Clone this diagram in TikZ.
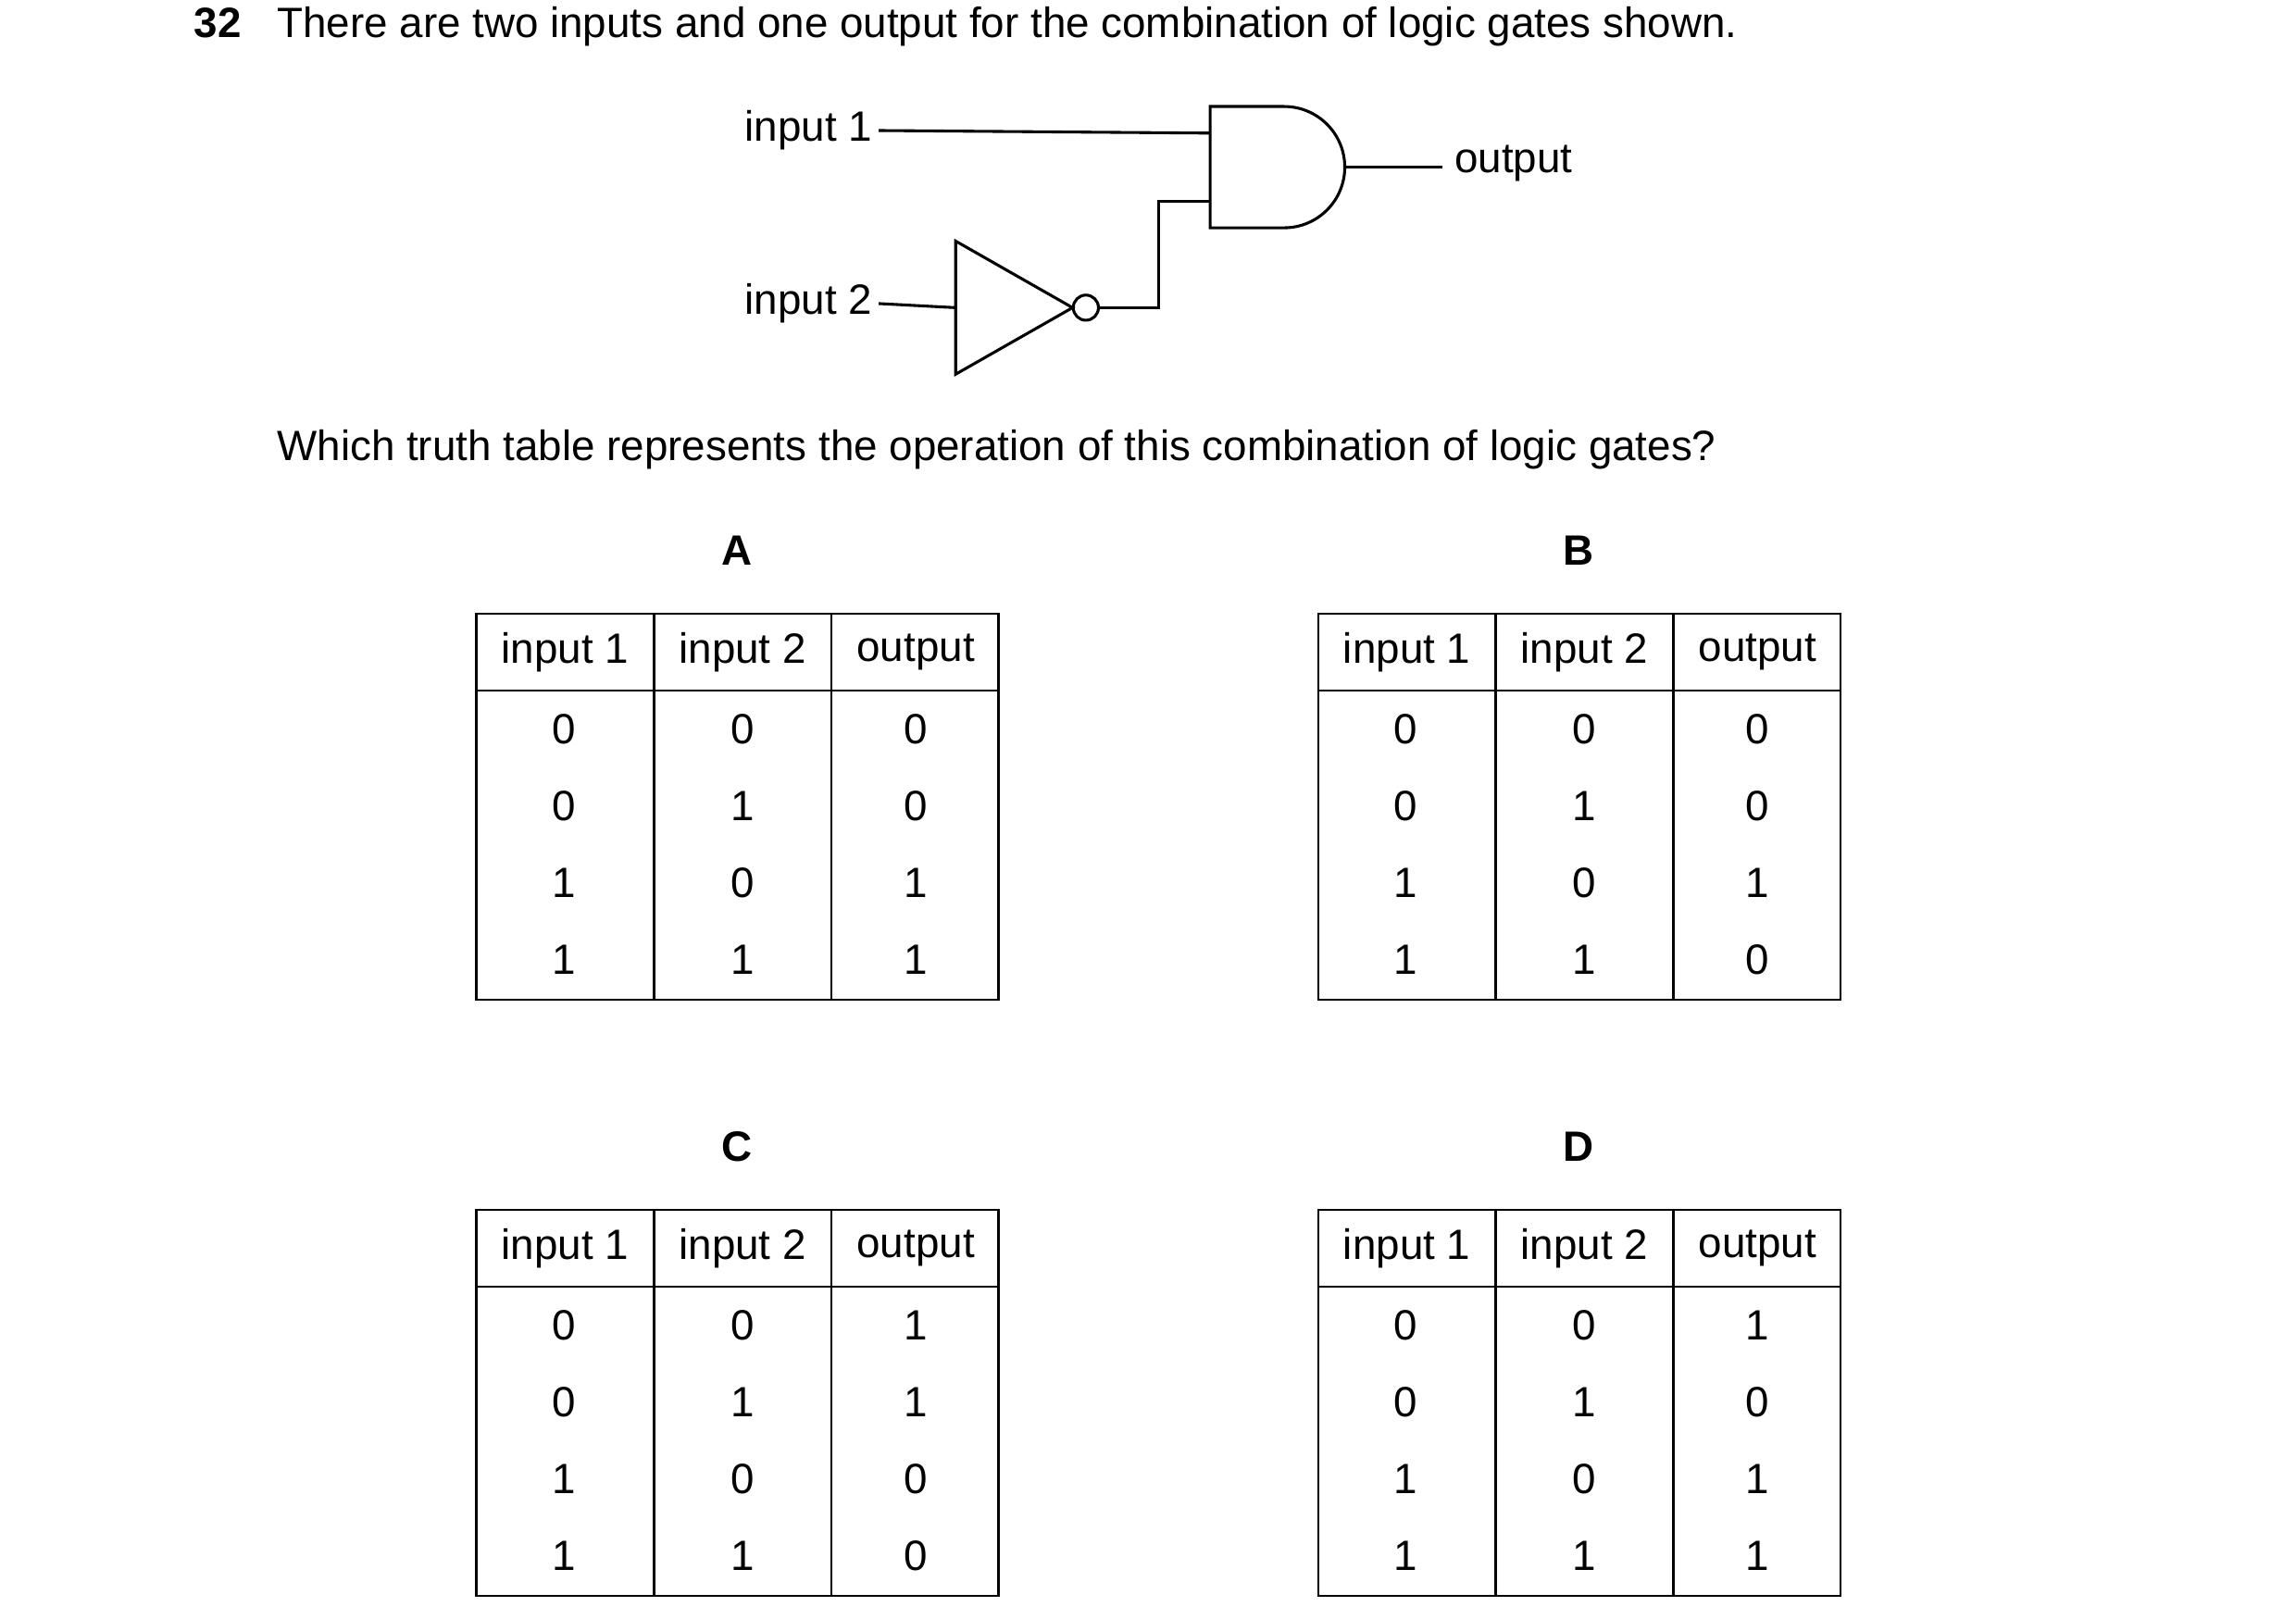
\documentclass[tikz,border=0pt]{standalone}
\usepackage{fontspec}
\setmainfont{Liberation Sans}
\begin{document}
\begin{tikzpicture}[x=0.02cm,y=-0.02cm,
  txt/.style={font=\fontsize{16.3pt}{19pt}\selectfont, inner sep=0pt},
  wire/.style={line width=1.1pt},
  tab/.style={line width=0.9pt}]
\useasboundingbox (0,0) rectangle (1552,1094);
\node[txt,anchor=mid west,font=\fontsize{16.3pt}{19pt}\selectfont\bfseries] (num) at (131,21) {32};
\node[txt,anchor=mid west] (q) at (187,21) {There are two inputs and one output for the combination of logic gates shown.};
% circuit
\node[txt,anchor=mid east] (in1) at (590,91) {input 1};
\node[txt,anchor=mid east] (in2) at (590,208) {input 2};
\node[txt,anchor=mid west] (out) at (983,112) {output};
\coordinate (a1) at (818,90);
\coordinate (a2) at (818,136);
\coordinate (ao) at (909,113);
\draw[wire] (818,72) -- (868,72) arc[start angle=-90,end angle=90,radius=41] -- (818,154) -- cycle;
\draw[wire] (646,163) -- (725,208) -- (646,253) -- cycle;
\draw[wire] (734,208) circle[radius=8.5];
\coordinate (nin) at (646,208);
\coordinate (nout) at (742.5,208);
\draw[wire] (in1.east) ++(4,0) -- (a1);
\draw[wire] (in2.east) ++(4,0) -- (nin);
\draw[wire] (nout) -- (783,208) -- (783,136) -- (a2);
\draw[wire] (ao) -- (975,113);
\node[txt,anchor=mid west] (which) at (187,307) {Which truth table represents the operation of this combination of logic gates?};
% tables
\foreach \lab/\x/\y/\o in {A/322/415/{0,0,1,1}, B/891/415/{0,0,1,0}, C/322/818/{1,1,0,0}, D/891/818/{1,0,1,1}}{
  \node[txt,font=\fontsize{16.3pt}{19pt}\selectfont\bfseries] (L\lab) at (\x+176,\y-43) {\lab};
  \draw[tab] (\x,\y) rectangle (\x+353,\y+261);
  \draw[tab] (\x,\y+52) -- (\x+353,\y+52);
  \draw[tab] (\x+120,\y) -- (\x+120,\y+261);
  \draw[tab] (\x+240,\y) -- (\x+240,\y+261);
  \node[txt] (h1\lab) at (\x+60,\y+26) {input 1};
  \node[txt] (h2\lab) at (\x+180,\y+26) {input 2};
  \node[txt] (h3\lab) at (\x+297,\y+26) {output};
  \foreach \a/\b/\c [count=\r] in {0/0/x,0/1/x,1/0/x,1/1/x}{
    \node[txt] (r\r a\lab) at (\x+59,\y+26+52*\r) {\a};
    \node[txt] (r\r b\lab) at (\x+180,\y+26+52*\r) {\b};
  }
  \foreach \v [count=\r] in \o {
    \node[txt] (r\r c\lab) at (\x+297,\y+26+52*\r) {\v};
  }
}
\end{tikzpicture}
\end{document}
